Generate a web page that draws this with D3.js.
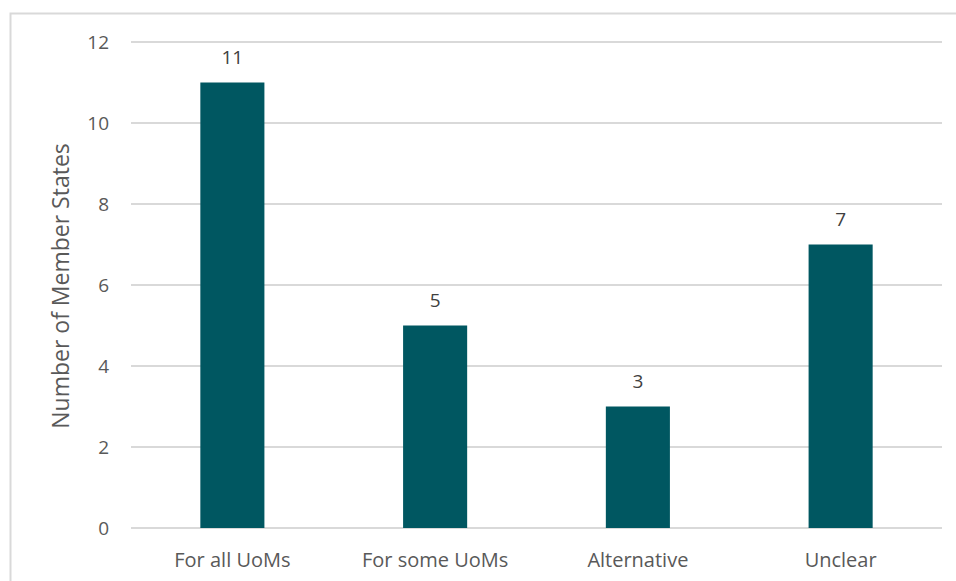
<!DOCTYPE html>
<html>
<head>
<meta charset="utf-8">
<script src="https://cdn.jsdelivr.net/npm/d3@7"></script>
<style>
  html, body { margin: 0; padding: 0; background: #fff; }
  svg { display: block; font-family: "Open Sans", "Noto Sans", sans-serif; }
</style>
</head>
<body>
<div id="chart"></div>
<script>
// Chart data
const categories = ['For all UoMs', 'For some UoMs', 'Alternative', 'Unclear'];
const values = [11, 5, 3, 7];
const yTicks = [0, 2, 4, 6, 8, 10, 12];
const yTitle = 'Number of Member States';

const width = 956, height = 581;
const margin = { top: 42, right: 14, bottom: 53, left: 131 };

const svg = d3.select('#chart')
    .append('svg')
    .attr('width', width)
    .attr('height', height);

// chart frame (only top and left edges fall inside the picture)
svg.append('rect')
    .attr('x', 10.5)
    .attr('y', 13.5)
    .attr('width', width + 20)
    .attr('height', height + 20)
    .attr('fill', 'none')
    .attr('stroke', '#d9d9d9')
    .attr('stroke-width', 2);

const x = d3.scaleBand()
    .domain(categories)
    .range([margin.left, width - margin.right])
    .paddingInner(0.684)
    .paddingOuter(0.342);

const y = d3.scaleLinear()
    .domain([0, 12])
    .range([height - margin.bottom, margin.top]);

// Gridlines
svg.append('g')
    .selectAll('line')
    .data(yTicks)
    .enter()
    .append('line')
    .attr('x1', margin.left)
    .attr('x2', width - margin.right)
    .attr('y1', d => y(d))
    .attr('y2', d => y(d))
    .attr('stroke', '#d9d9d9')
    .attr('stroke-width', 2);

// Y axis tick labels
const yAxis = d3.axisLeft(y).tickValues(yTicks).tickSize(0).tickPadding(0);
const yg = svg.append('g')
    .attr('transform', `translate(${margin.left - 22},0)`)
    .call(yAxis);
yg.select('.domain').remove();
yg.selectAll('text')
    .attr('fill', '#595959')
    .style('font-size', '19px')
    .style('font-family', '"Open Sans", "Noto Sans", sans-serif');

// X axis labels
const xAxis = d3.axisBottom(x).tickSize(0).tickPadding(0);
const xg = svg.append('g')
    .attr('transform', `translate(0,${height - margin.bottom + 25})`)
    .call(xAxis);
xg.select('.domain').remove();
xg.selectAll('text')
    .attr('fill', '#595959')
    .style('font-size', '20px')
    .style('font-family', '"Open Sans", "Noto Sans", sans-serif');

// Bars
svg.append('g')
    .selectAll('rect')
    .data(values)
    .enter()
    .append('rect')
    .attr('x', (d, i) => x(categories[i]))
    .attr('y', d => y(d))
    .attr('width', x.bandwidth())
    .attr('height', d => y(0) - y(d))
    .attr('fill', '#005761');

// Data labels
svg.append('g')
    .selectAll('text')
    .data(values)
    .enter()
    .append('text')
    .attr('x', (d, i) => x(categories[i]) + x.bandwidth() / 2)
    .attr('y', d => y(d) - 19)
    .attr('text-anchor', 'middle')
    .attr('fill', '#404040')
    .style('font-size', '19px')
    .text(d => d);

// Y axis title
svg.append('text')
    .attr('transform', `translate(69, ${(margin.top + height - margin.bottom) / 2 + 1}) rotate(-90)`)
    .attr('text-anchor', 'middle')
    .attr('fill', '#595959')
    .style('font-size', '23px')
    .text(yTitle);
</script>
</body>
</html>
